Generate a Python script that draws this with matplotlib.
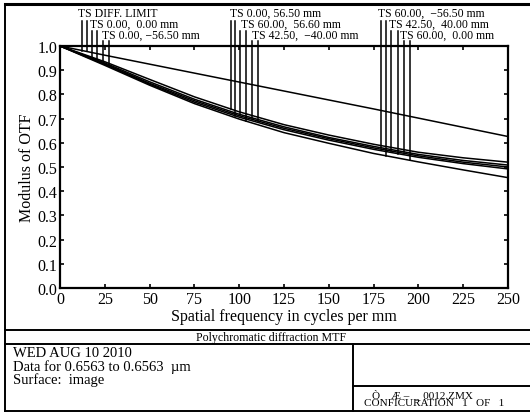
import matplotlib
matplotlib.use("Agg")
import matplotlib.pyplot as plt
import numpy as np

plt.rcParams['font.family'] = ['Liberation Serif', 'DejaVu Serif']

# spatial frequency samples (cycles per mm)
freq = [0, 25, 50, 75, 100, 125, 150, 175, 200, 225, 250]

# MTF curves
mtf_diff = [1.0, 0.962, 0.925, 0.888, 0.851, 0.814, 0.777, 0.740, 0.702, 0.664, 0.626]
mtf_a = [1.0, 0.935, 0.862, 0.790, 0.728, 0.675, 0.632, 0.594, 0.561, 0.538, 0.520]
mtf_b = [1.0, 0.930, 0.852, 0.780, 0.718, 0.666, 0.622, 0.585, 0.552, 0.527, 0.508]
mtf_c = [1.0, 0.926, 0.846, 0.774, 0.712, 0.660, 0.617, 0.579, 0.546, 0.520, 0.500]
mtf_d = [1.0, 0.924, 0.842, 0.768, 0.706, 0.654, 0.611, 0.573, 0.540, 0.514, 0.492]
mtf_e = [1.0, 0.920, 0.838, 0.762, 0.698, 0.642, 0.598, 0.556, 0.521, 0.488, 0.456]

# legend labels, in three groups of three
labels = ['TS DIFF. LIMIT', 'TS 0.00,  0.00 mm', 'TS 0.00, \u221256.50 mm',
          'TS 0.00, 56.50 mm', 'TS 60.00,  56.60 mm', 'TS 42.50,  \u221240.00 mm',
          'TS 60.00,  \u221256.50 mm', 'TS 42.50,  40.00 mm', 'TS 60.00,  0.00 mm']
# which curve is tangential / sagittal for each label
label_curves = [(mtf_diff, mtf_diff), (mtf_c, mtf_c), (mtf_a, mtf_d),
                (mtf_a, mtf_d), (mtf_b, mtf_e), (mtf_b, mtf_c),
                (mtf_b, mtf_e), (mtf_c, mtf_d), (mtf_b, mtf_e)]
# frequency where each label's T and S marker lines sit
marker_freq = [(12.5, 14.8), (17.9, 20.7), (24.0, 27.1),
               (95.6, 97.9), (100.7, 104.0), (107.4, 110.7),
               (179.0, 181.8), (184.6, 188.5), (191.8, 195.2)]
label_freq = [10.1, 16.9, 23.5, 95.1, 101.0, 107.0, 177.3, 183.5, 190.0]

W, H = 530, 414
fig = plt.figure(figsize=(W / 100, H / 100), dpi=100)

# page frame drawn in pixel coordinates
frame = fig.add_axes([0, 0, 1, 1])
frame.set_xlim(0, W)
frame.set_ylim(H, 0)
frame.axis('off')
kw = dict(color='black', lw=1.4)
frame.plot([5, W], [5, 5], color='black', lw=2.2)
frame.plot([5, 5], [5, 412], **kw)
frame.plot([5, W], [331, 331], **kw)
frame.plot([5, W], [345, 345], **kw)
frame.plot([5, W], [412, 412], **kw)
frame.plot([353, 353], [345, 412], **kw)
frame.plot([353, W], [387, 387], **kw)

frame.text(271, 338, 'Polychromatic diffraction MTF', fontsize=8.6,
           ha='center', va='center')
frame.text(13, 354, 'WED AUG 10 2010', fontsize=10.5, va='center')
frame.text(13, 367, 'Data for 0.6563 to 0.6563  \u00b5m', fontsize=10.5, va='center')
frame.text(13, 380, 'Surface:  image', fontsize=10.5, va='center')
frame.text(372, 395, '\u00d2    \u00c6 \u2013  _ 0012.ZMX', fontsize=8, va='center')
frame.text(364, 404, 'CONFICURATION   1   OF   1', fontsize=8, va='center')

# MTF axes
ax = fig.add_axes([60 / W, 1 - 289 / H, 448 / W, 242 / H])
ax.set_xlim(0, 250)
ax.set_ylim(0, 1.0)

ax.plot(freq, mtf_diff, color='black', lw=1.1)
for curve in [mtf_a, mtf_b, mtf_c, mtf_d, mtf_e]:
    ax.plot(freq, curve, color='black', lw=1.1)

# labels and vertical marker lines
row_y = [1.138, 1.093, 1.048]
line_top = [1.105, 1.062, 1.020]
for i, lab in enumerate(labels):
    row = i % 3
    ax.text(label_freq[i], row_y[row], lab, fontsize=8.5, va='center',
            ha='left', clip_on=False)
    for f, curve in zip(marker_freq[i], label_curves[i]):
        bottom = np.interp(f, freq, curve)
        ax.plot([f, f], [line_top[row], bottom], color='black', lw=1.1,
                clip_on=False)

ax.set_xticks(np.arange(0, 251, 25))
ax.set_yticks(np.round(np.arange(0, 1.01, 0.1), 1))
ax.set_yticklabels([f'{v:.1f}' for v in np.arange(0, 1.01, 0.1)])
ax.tick_params(direction='in', length=3, width=1.2, top=True, right=True,
               labelsize=11.5, pad=2, colors='black')
for s in ax.spines.values():
    s.set_linewidth(1.6)

ax.set_xlabel('Spatial frequency in cycles per mm', fontsize=11.5, labelpad=1)
ax.set_ylabel('Modulus of OTF', fontsize=11.5, labelpad=2)

fig.savefig('out.png', dpi=100)
